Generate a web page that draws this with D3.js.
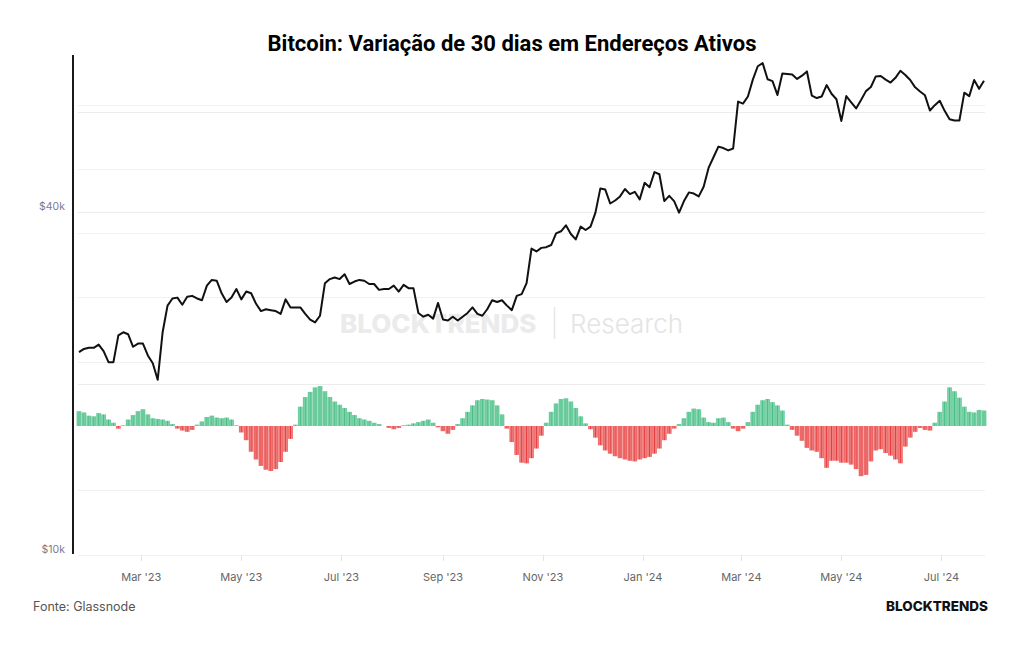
<!DOCTYPE html>
<html>
<head>
<meta charset="utf-8">
<script src="https://cdn.jsdelivr.net/npm/d3@7"></script>
<style>
  body { margin: 0; background: #fff; }
  svg { display: block; }
</style>
</head>
<body>
<svg id="chart" width="1024" height="645"></svg>
<script>
// Data: one sample every 3 days, starting 22 Jan 2023
const startDate = new Date(2023, 0, 22);
const stepDays = 3;

// BTC price in $k
const priceK = [
  22.7, 23.0, 23.1, 23.1,
  23.4, 22.8, 21.8, 21.8, 24.3, 24.6, 24.4, 23.2, 23.5,
  23.5, 22.4, 21.7, 20.3, 24.6, 27.4, 28.2, 28.3, 27.5, 28.4,
  28.5, 28.2, 28.0, 29.7, 30.4, 30.3, 28.8, 27.8, 28.3, 29.3,
  28.1, 29.0, 28.8, 27.6, 26.8, 27.0, 26.9, 26.8, 26.5, 28.1, 27.2,
  27.2, 27.2, 26.5, 25.9, 25.6, 26.3, 30.0, 30.5, 30.7, 30.5,
  31.1, 29.9, 30.2, 30.4, 30.3, 29.9, 29.9, 29.2, 29.3, 29.3,
  29.7, 29.0, 29.8, 29.4, 29.4, 26.6, 26.2, 26.4, 26.0, 27.7,
  25.9, 25.8, 26.2, 25.8, 26.2, 26.6, 27.2, 26.5, 26.3, 27.0,
  28.0, 27.8, 28.0, 27.4, 26.9, 28.5, 28.7, 30.0, 34.5, 34.1, 34.6,
  34.7, 35.0, 36.7, 37.0, 37.9, 36.6, 35.8, 37.7, 37.2, 37.7,
  39.9, 44.0, 43.8, 41.4, 41.9, 42.6, 43.9, 43.0, 43.4, 42.1,
  45.0, 44.2, 47.0, 46.6, 41.8, 42.7, 41.8, 39.9, 41.8, 43.3,
  43.1, 42.6, 44.3, 47.8, 49.9, 52.1, 51.8, 51.3, 51.7, 62.5,
  62.0, 63.8, 68.3, 72.1, 73.0, 68.4, 67.9, 64.2, 70.0, 69.9,
  69.7, 68.5, 69.4, 70.6, 64.0, 63.4, 63.8, 66.8, 64.5, 63.1,
  57.8, 63.9, 62.3, 60.8, 62.9, 65.2, 66.3, 69.2, 69.3, 68.3, 67.5,
  68.8, 70.8, 69.6, 68.2, 66.2, 65.1, 64.1, 60.3, 61.6, 62.7,
  60.2, 58.2, 57.9, 57.9, 64.8, 63.9, 68.2, 65.8, 68.0
];

// 30-day change in active addresses (fraction)
const addrChange = [
  0.023, 0.021, 0.016, 0.015, 0.020, 0.018, 0.010, 0.005, -0.004, 0.001,
  0.010, 0.017, 0.023, 0.026, 0.018, 0.012, 0.011, 0.010, 0.008, 0.003,
  -0.004, -0.007, -0.009, -0.006, 0.002, 0.007, 0.014, 0.016, 0.013, 0.012,
  0.013, 0.010, 0.001, -0.010, -0.022, -0.040, -0.052, -0.062, -0.068, -0.070,
  -0.067, -0.056, -0.040, -0.020, 0.002, 0.030, 0.045, 0.053, 0.060, 0.062,
  0.054, 0.045, 0.038, 0.033, 0.028, 0.022, 0.017, 0.012, 0.010, 0.008,
  0.005, 0.003, 0.000, -0.003, -0.005, -0.003, 0.001, 0.002, 0.004, 0.006,
  0.008, 0.010, 0.005, -0.002, -0.008, -0.012, -0.006, 0.003, 0.012, 0.022,
  0.032, 0.040, 0.042, 0.041, 0.040, 0.032, 0.018, -0.004, -0.025, -0.045,
  -0.057, -0.058, -0.050, -0.035, -0.015, 0.005, 0.022, 0.035, 0.042, 0.043,
  0.038, 0.028, 0.015, 0.004, -0.005, -0.018, -0.030, -0.038, -0.043, -0.047,
  -0.050, -0.052, -0.054, -0.055, -0.052, -0.050, -0.048, -0.043, -0.035, -0.022,
  -0.012, -0.004, 0.003, 0.012, 0.022, 0.027, 0.026, 0.013, 0.006, 0.005,
  0.012, 0.013, 0.006, -0.004, -0.008, -0.004, 0.006, 0.022, 0.033, 0.040,
  0.042, 0.037, 0.032, 0.024, 0.002, -0.006, -0.015, -0.023, -0.034, -0.038,
  -0.040, -0.050, -0.065, -0.054, -0.054, -0.057, -0.057, -0.060, -0.067, -0.078,
  -0.076, -0.055, -0.038, -0.036, -0.042, -0.046, -0.052, -0.058, -0.032, -0.018,
  -0.009, -0.003, -0.006, -0.007, 0.005, 0.022, 0.038, 0.060, 0.054, 0.044,
  0.030, 0.022, 0.021, 0.025, 0.024
];

const priceGrid = [10000, 20000, 40000, 60000];
const priceLabels = [10000, 40000];
const changeGrid = [-0.2, -0.1, 0.1, 0.2, 0.3, 0.4, 0.5];
const monthTicks = [
  new Date(2023, 2, 1), new Date(2023, 4, 1), new Date(2023, 6, 1),
  new Date(2023, 8, 1), new Date(2023, 10, 1), new Date(2024, 0, 1),
  new Date(2024, 2, 1), new Date(2024, 4, 1), new Date(2024, 6, 1)
];
const monthNames = ["Jan", "Feb", "Mar", "Apr", "May", "Jun", "Jul", "Aug", "Sep", "Oct", "Nov", "Dec"];

const svg = d3.select("#chart");
const plotLeft = 78, plotRight = 985;

svg.append("rect").attr("width", 1024).attr("height", 645).attr("fill", "#fff");

const dateAt = i => d3.timeDay.offset(startDate, i * stepDays);
const priceData = priceK.map((v, i) => ({ date: dateAt(i), value: v * 1000 }));
const changeData = addrChange.map((v, i) => ({ date: dateAt(i), value: v }));

// Scales
const x = d3.scaleTime()
  .domain([startDate, dateAt(priceK.length - 1)])
  .range([plotLeft + 1, plotRight - 1]);

const yPrice = d3.scaleLog()
  .domain([10000, 40000])
  .range([555, 212]);

const yChange = d3.scaleLinear()
  .domain([0, 0.1])
  .range([426, 361.7]);

// Gridlines
const grid = svg.append("g");
grid.selectAll("line.pg")
  .data(priceGrid)
  .enter().append("line")
  .attr("x1", plotLeft).attr("x2", plotRight)
  .attr("y1", d => Math.round(yPrice(d)) + 0.5)
  .attr("y2", d => Math.round(yPrice(d)) + 0.5)
  .attr("stroke", "#ececec");

grid.selectAll("line.cg")
  .data(changeGrid)
  .enter().append("line")
  .attr("x1", plotLeft).attr("x2", plotRight)
  .attr("y1", d => Math.round(yChange(d)) + 0.5)
  .attr("y2", d => Math.round(yChange(d)) + 0.5)
  .attr("stroke", "#f1f1f1");

// Watermark
svg.append("text")
  .attr("x", 340).attr("y", 333)
  .style("font-family", "Inter, 'Open Sans', sans-serif")
  .style("font-weight", 800)
  .style("font-size", "26px")
  .attr("fill", "#ebebeb")
  .text("BLOCKTRENDS");
svg.append("line")
  .attr("x1", 554.5).attr("x2", 554.5)
  .attr("y1", 307).attr("y2", 339)
  .attr("stroke", "#e6e6e6").attr("stroke-width", 1.5);
svg.append("text")
  .attr("x", 570).attr("y", 333)
  .style("font-family", "Inter, 'Open Sans', sans-serif")
  .style("font-weight", 300)
  .style("font-size", "26px")
  .attr("fill", "#e4e4e4")
  .text("Research");

// Histogram bars: light fill with darker day-lines inside
const barW = x(dateAt(1)) - x(dateAt(0));
const bars = svg.append("g").selectAll("g")
  .data(changeData)
  .enter().append("g");

bars.append("rect")
  .attr("x", d => x(d.date) - barW / 2)
  .attr("width", barW)
  .attr("y", d => Math.min(yChange(d.value), yChange(0)))
  .attr("height", d => Math.abs(yChange(d.value) - yChange(0)))
  .attr("fill", d => d.value >= 0 ? "#8fd9b5" : "#f29494");

bars.selectAll("line")
  .data(d => [-1.6, 0, 1.6].map(o => ({ o, d })))
  .enter().append("line")
  .attr("x1", e => x(e.d.date) + e.o)
  .attr("x2", e => x(e.d.date) + e.o)
  .attr("y1", yChange(0))
  .attr("y2", e => yChange(e.d.value))
  .attr("stroke", e => e.d.value >= 0 ? "#2fb475" : "#e3201d")
  .attr("stroke-opacity", e => e.o === 0 ? 0.85 : 0.45)
  .attr("stroke-width", 0.9);

// Price line
const line = d3.line()
  .x(d => x(d.date))
  .y(d => yPrice(d.value));

svg.append("path")
  .datum(priceData)
  .attr("d", line)
  .attr("fill", "none")
  .attr("stroke", "#111")
  .attr("stroke-width", 2)
  .attr("stroke-linejoin", "round");

// Left axis line
svg.append("line")
  .attr("x1", 73).attr("x2", 73)
  .attr("y1", 55).attr("y2", 554)
  .attr("stroke", "#1a1a1a").attr("stroke-width", 2);

// Price labels
svg.selectAll("text.ylab")
  .data(priceLabels)
  .enter().append("text")
  .attr("class", "ylab")
  .attr("x", 65)
  .attr("y", d => yPrice(d) - 2)
  .attr("text-anchor", "end")
  .style("font-family", "Inter, 'Open Sans', sans-serif")
  .style("font-size", "10.5px")
  .attr("fill", "#7b7b8c")
  .text(d => "$" + (d / 1000) + "k");

// X axis ticks + labels
const xAxis = svg.append("g");
xAxis.selectAll("line")
  .data(monthTicks)
  .enter().append("line")
  .attr("x1", d => Math.round(x(d)) + 0.5)
  .attr("x2", d => Math.round(x(d)) + 0.5)
  .attr("y1", 555).attr("y2", 561)
  .attr("stroke", "#e4e4e4");
xAxis.selectAll("text")
  .data(monthTicks)
  .enter().append("text")
  .attr("x", d => x(d))
  .attr("y", 581)
  .attr("text-anchor", "middle")
  .style("font-family", "Inter, 'Open Sans', sans-serif")
  .style("font-size", "11px")
  .attr("fill", "#666")
  .text(d => monthNames[d.getMonth()] + " '" + String(d.getFullYear()).slice(2));

// Title
svg.append("text")
  .attr("x", 512).attr("y", 51)
  .attr("text-anchor", "middle")
  .style("font-family", "Roboto, sans-serif")
  .style("font-weight", 700)
  .style("font-size", "22px")
  .attr("fill", "#000")
  .text("Bitcoin: Variação de 30 dias em Endereços Ativos");

// Footer
svg.append("text")
  .attr("x", 33).attr("y", 611)
  .style("font-family", "Inter, 'Open Sans', sans-serif")
  .style("font-size", "12.5px")
  .attr("fill", "#555")
  .text("Fonte: Glassnode");
svg.append("text")
  .attr("x", 988).attr("y", 611)
  .attr("text-anchor", "end")
  .style("font-family", "Inter, 'Open Sans', sans-serif")
  .style("font-weight", 800)
  .style("font-size", "13.5px")
  .attr("fill", "#111")
  .text("BLOCKTRENDS");
</script>
</body>
</html>
